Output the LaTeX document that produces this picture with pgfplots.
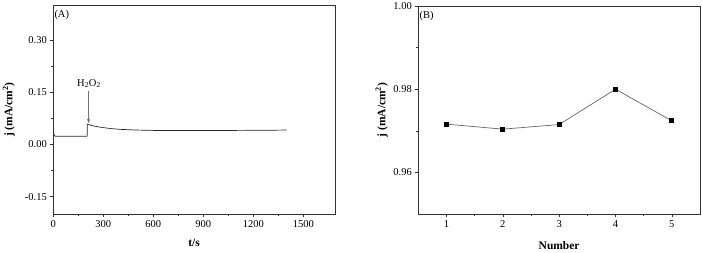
\documentclass[border=0pt]{standalone}
\usepackage{fontspec}
\setmainfont{Liberation Serif}
\usepackage{pgfplots}
\pgfplotsset{compat=1.18}
\usetikzlibrary{arrows.meta}
\begin{document}
\begin{tikzpicture}
\useasboundingbox (0,0) rectangle (702pt,252pt);
\pgfplotsset{
  every axis/.append style={
    scale only axis,
    anchor=south west,
    axis line style={black!80, line width=0.7pt},
    tick style={black!80, line width=0.6pt},
    tick align=outside,
    xtick pos=bottom, ytick pos=left,
    major tick length=3pt, minor tick length=2pt,
    minor tick num=1,
    /pgf/number format/assume math mode=true,
    tick label style={font=\fontsize{10.5}{12}\selectfont},
    label style={font=\fontsize{11.5}{13}\selectfont\bfseries},
  }
}
% Panel A
\begin{axis}[
  at={(53.3pt,38pt)}, width=281.7pt, height=209pt,
  xmin=0, xmax=1690, ymin=-0.2, ymax=0.4,
  xtick={0,300,600,900,1200,1500},
  ytick={-0.15,0,0.15,0.30},
  xticklabel style={/pgf/number format/1000 sep={}},
  yticklabel style={/pgf/number format/.cd, fixed, fixed zerofill, precision=2},
  xlabel={t/s}, ylabel={j (mA/cm\textsuperscript{2})},
  x label style={at={(axis description cs:0.5,-0.139)}, anchor=center},
  y label style={at={(axis description cs:-0.158,0.5)}, anchor=center},
]
\addplot[black!85, line width=0.7pt] coordinates {
(0,0.039) (2,0.032) (5,0.027) (9,0.024) (15,0.023) (50,0.023) (100,0.023) (150,0.023) (203,0.023)
(204,0.058) (210,0.057) (230,0.054) (260,0.051) (300,0.048) (350,0.045) (400,0.043) (450,0.042)
(500,0.041) (600,0.040) (700,0.0395) (800,0.0395) (900,0.0395) (1000,0.0398) (1100,0.040) (1200,0.0403) (1300,0.0405) (1400,0.041)
};
\draw[black!55, line width=0.7pt, -{Stealth[length=4.5pt,width=3.5pt]}] (axis cs:212,0.153) -- (axis cs:212,0.061);
\node[font=\fontsize{10.5}{12}\selectfont] at (axis cs:214,0.175) {H\textsubscript{2}O\textsubscript{2}};
\node[anchor=north west, inner sep=1pt, font=\fontsize{10.5}{12}\selectfont] at (rel axis cs:0,1) [yshift=-4pt] {(A)};
\end{axis}
% Panel B
\begin{axis}[
  at={(418.3pt,38pt)}, width=281.7pt, height=208pt,
  xmin=0.5, xmax=5.5, ymin=0.95, ymax=1.00,
  xtick={1,2,3,4,5},
  ytick={0.96,0.98,1.00},
  yticklabel style={/pgf/number format/.cd, fixed, fixed zerofill, precision=2},
  xlabel={Number}, ylabel={j (mA/cm\textsuperscript{2})},
  x label style={at={(axis description cs:0.5,-0.152)}, anchor=center},
  y label style={at={(axis description cs:-0.130,0.5)}, anchor=center},
]
\addplot[black!60, line width=0.7pt, mark=square*, mark size=2pt, mark options={fill=black, draw=black}] coordinates {
(1,0.9716) (2,0.9704) (3,0.9715) (4,0.9800) (5,0.9724)
};
\node[anchor=north west, inner sep=1pt, font=\fontsize{10.5}{12}\selectfont] at (rel axis cs:0,1) [yshift=-4pt] {(B)};
\end{axis}
\end{tikzpicture}
\end{document}
